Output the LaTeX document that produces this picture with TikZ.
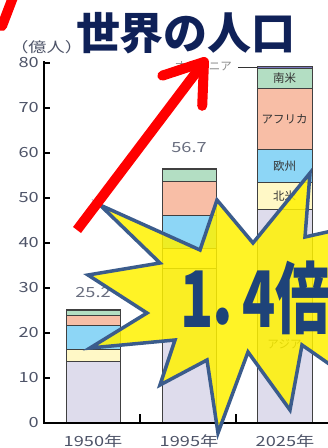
\documentclass[tikz,border=0pt]{standalone}
\usepackage{fontspec}
\setmainfont{Noto Sans CJK JP}
\newfontfamily\heavyfont{Noto Sans CJK JP Black}
\usetikzlibrary{arrows.meta}

\definecolor{asia}{HTML}{DEDCEC}
\definecolor{namerica}{HTML}{FFF8C6}
\definecolor{europe}{HTML}{8DD6F6}
\definecolor{africa}{HTML}{F8BEA6}
\definecolor{samerica}{HTML}{B3DEC3}
\definecolor{oceania}{HTML}{7A78C0}
\definecolor{axisgrey}{HTML}{4E5468}
\definecolor{titlenavy}{HTML}{0F2158}
\definecolor{burstedge}{HTML}{3B5C8C}
\definecolor{burstnavy}{HTML}{1E4379}

\tikzstyle{segment}=[draw=black!75, line width=0.7pt]
\tikzstyle{axisline}=[line width=2.2pt]
\tikzstyle{tickmark}=[line width=2.2pt]
\tikzstyle{ticklabel}=[anchor=east, inner sep=0pt, text=axisgrey, font=\fontsize{14}{14}\selectfont, xscale=1.3]
\tikzstyle{yearlabel}=[inner sep=0pt, text=axisgrey, font=\fontsize{14}{14}\selectfont, xscale=1.3]
\tikzstyle{valuelabel}=[inner sep=0pt, text=axisgrey!85, font=\fontsize{14}{14}\selectfont, xscale=1.3]
\tikzstyle{region}=[inner sep=0pt, text=black!80, font=\fontsize{11.5}{12}\selectfont]
\tikzstyle{burst}=[draw=burstedge, line width=3.5pt, fill=yellow, fill opacity=0.85, line join=miter]
\tikzstyle{redarrow}=[draw=red, line width=10pt, -{Straight Barb[length=36pt, width=50pt, round]}]

\begin{document}
\begin{tikzpicture}[x=1pt, y=-1pt]
    \useasboundingbox (0,0) rectangle (328,448);
    \clip (0,0) rectangle (328,448);
    \fill[white] (0,0) rectangle (328,448);

    % Bars:
    \begin{scope}[shift={(0pt,-423pt)}, y=4.5pt]
        \filldraw[segment, fill=asia] (66,0) rectangle (120,13.8);
        \filldraw[segment, fill=namerica] (66,13.8) rectangle (120,16.4);
        \filldraw[segment, fill=europe] (66,16.4) rectangle (120,21.6);
        \filldraw[segment, fill=africa] (66,21.6) rectangle (120,24.0);
        \filldraw[segment, fill=samerica] (66,24.0) rectangle (120,25.0);
        \filldraw[segment, fill=oceania] (66,25.0) rectangle (120,25.2);

        \filldraw[segment, fill=asia] (162,0) rectangle (216,34.4);
        \filldraw[segment, fill=namerica] (162,34.4) rectangle (216,38.9);
        \filldraw[segment, fill=europe] (162,38.9) rectangle (216,46.2);
        \filldraw[segment, fill=africa] (162,46.2) rectangle (216,53.6);
        \filldraw[segment, fill=samerica] (162,53.6) rectangle (216,56.3);
        \filldraw[segment, fill=oceania] (162,56.3) rectangle (216,56.7);

        \filldraw[segment, fill=asia] (257,0) rectangle (312,47.5);
        \filldraw[segment, fill=namerica] (257,47.5) rectangle (312,53.5);
        \filldraw[segment, fill=europe] (257,53.5) rectangle (312,60.8);
        \filldraw[segment, fill=africa] (257,60.8) rectangle (312,74.4);
        \filldraw[segment, fill=samerica] (257,74.4) rectangle (312,78.9);
        \filldraw[segment, fill=oceania] (257,78.9) rectangle (312,79.3);

        \node[region] (sam) at (284.5,76.6) {南米};
        \node[region] (afr) at (284.5,67.6) {アフリカ};
        \node[region] (eur) at (284.5,57.1) {欧州};
        \node[region] (nam) at (284.5,50.5) {北米};
        \node[region] (asi) at (284.5,17.6) {アジア};
    \end{scope}

    % Axes:
    \draw[axisline] (44,61) -- (44,423) -- (328,423);
    \draw[tickmark] (44,423) -- (50,423); \node[ticklabel] (t0) at (39,423) {0};
    \draw[tickmark] (44,378) -- (50,378); \node[ticklabel] (t10) at (39,378) {10};
    \draw[tickmark] (44,333) -- (50,333); \node[ticklabel] (t20) at (39,333) {20};
    \draw[tickmark] (44,288) -- (50,288); \node[ticklabel] (t30) at (39,288) {30};
    \draw[tickmark] (44,243) -- (50,243); \node[ticklabel] (t40) at (39,243) {40};
    \draw[tickmark] (44,198) -- (50,198); \node[ticklabel] (t50) at (39,198) {50};
    \draw[tickmark] (44,153) -- (50,153); \node[ticklabel] (t60) at (39,153) {60};
    \draw[tickmark] (44,108) -- (50,108); \node[ticklabel] (t70) at (39,108) {70};
    \draw[tickmark] (44,63) -- (50,63); \node[ticklabel] (t80) at (39,63) {80};
    \draw[tickmark] (140,423) -- (140,414);
    \draw[tickmark] (236,423) -- (236,414);
    \node[yearlabel, anchor=west] (unit) at (10,47) {（億人）};

    \node[yearlabel] (y1950) at (93,441) {1950年};
    \node[yearlabel] (y1995) at (189,441) {1995年};
    \node[yearlabel] (y2025) at (285,441) {2025年};

    \node[valuelabel] (v1950) at (93,293) {25.2};
    \node[valuelabel] (v1995) at (189,148) {56.7};

    % Oceania leader:
    \node[region, text=black!45, anchor=east] (oce) at (232,66) {オセアニア};
    \coordinate (lead) at (238,67);
    \draw[black!80, line width=0.8pt] (lead) -- (257,67);

    % Burst:
    \draw[burst] (100,205) -- (200,250) -- (217,200) -- (253,243) -- (310,173)
        -- (305,237) -- (345,228) -- (345,375) -- (302,345) -- (290,410)
        -- (248,352) -- (218,433) -- (207,360) -- (160,385) -- (175,340)
        -- (90,348) -- (147,313) -- (88,275) -- (160,263) -- cycle;
    \node[anchor=west, inner sep=0pt, text=burstnavy, xscale=0.7, font=\fontsize{78}{78}\heavyfont] (ratio) at (180,298) {1\kern-0.12em．\kern-0.35em4倍};

    % Red arrows:
    \coordinate (tail) at (77,230);
    \coordinate (head) at (207,58);
    \draw[redarrow] (tail) -- (head);
    \coordinate (cornerA) at (15,-8);
    \coordinate (cornerB) at (2,26);
    \draw[red, line width=10pt, line cap=round] (cornerA) -- (cornerB);

    % Title:
    \node[text=titlenavy, font=\fontsize{44}{44}\heavyfont] (title) at (186,33) {世界の人口};
\end{tikzpicture}
\end{document}
